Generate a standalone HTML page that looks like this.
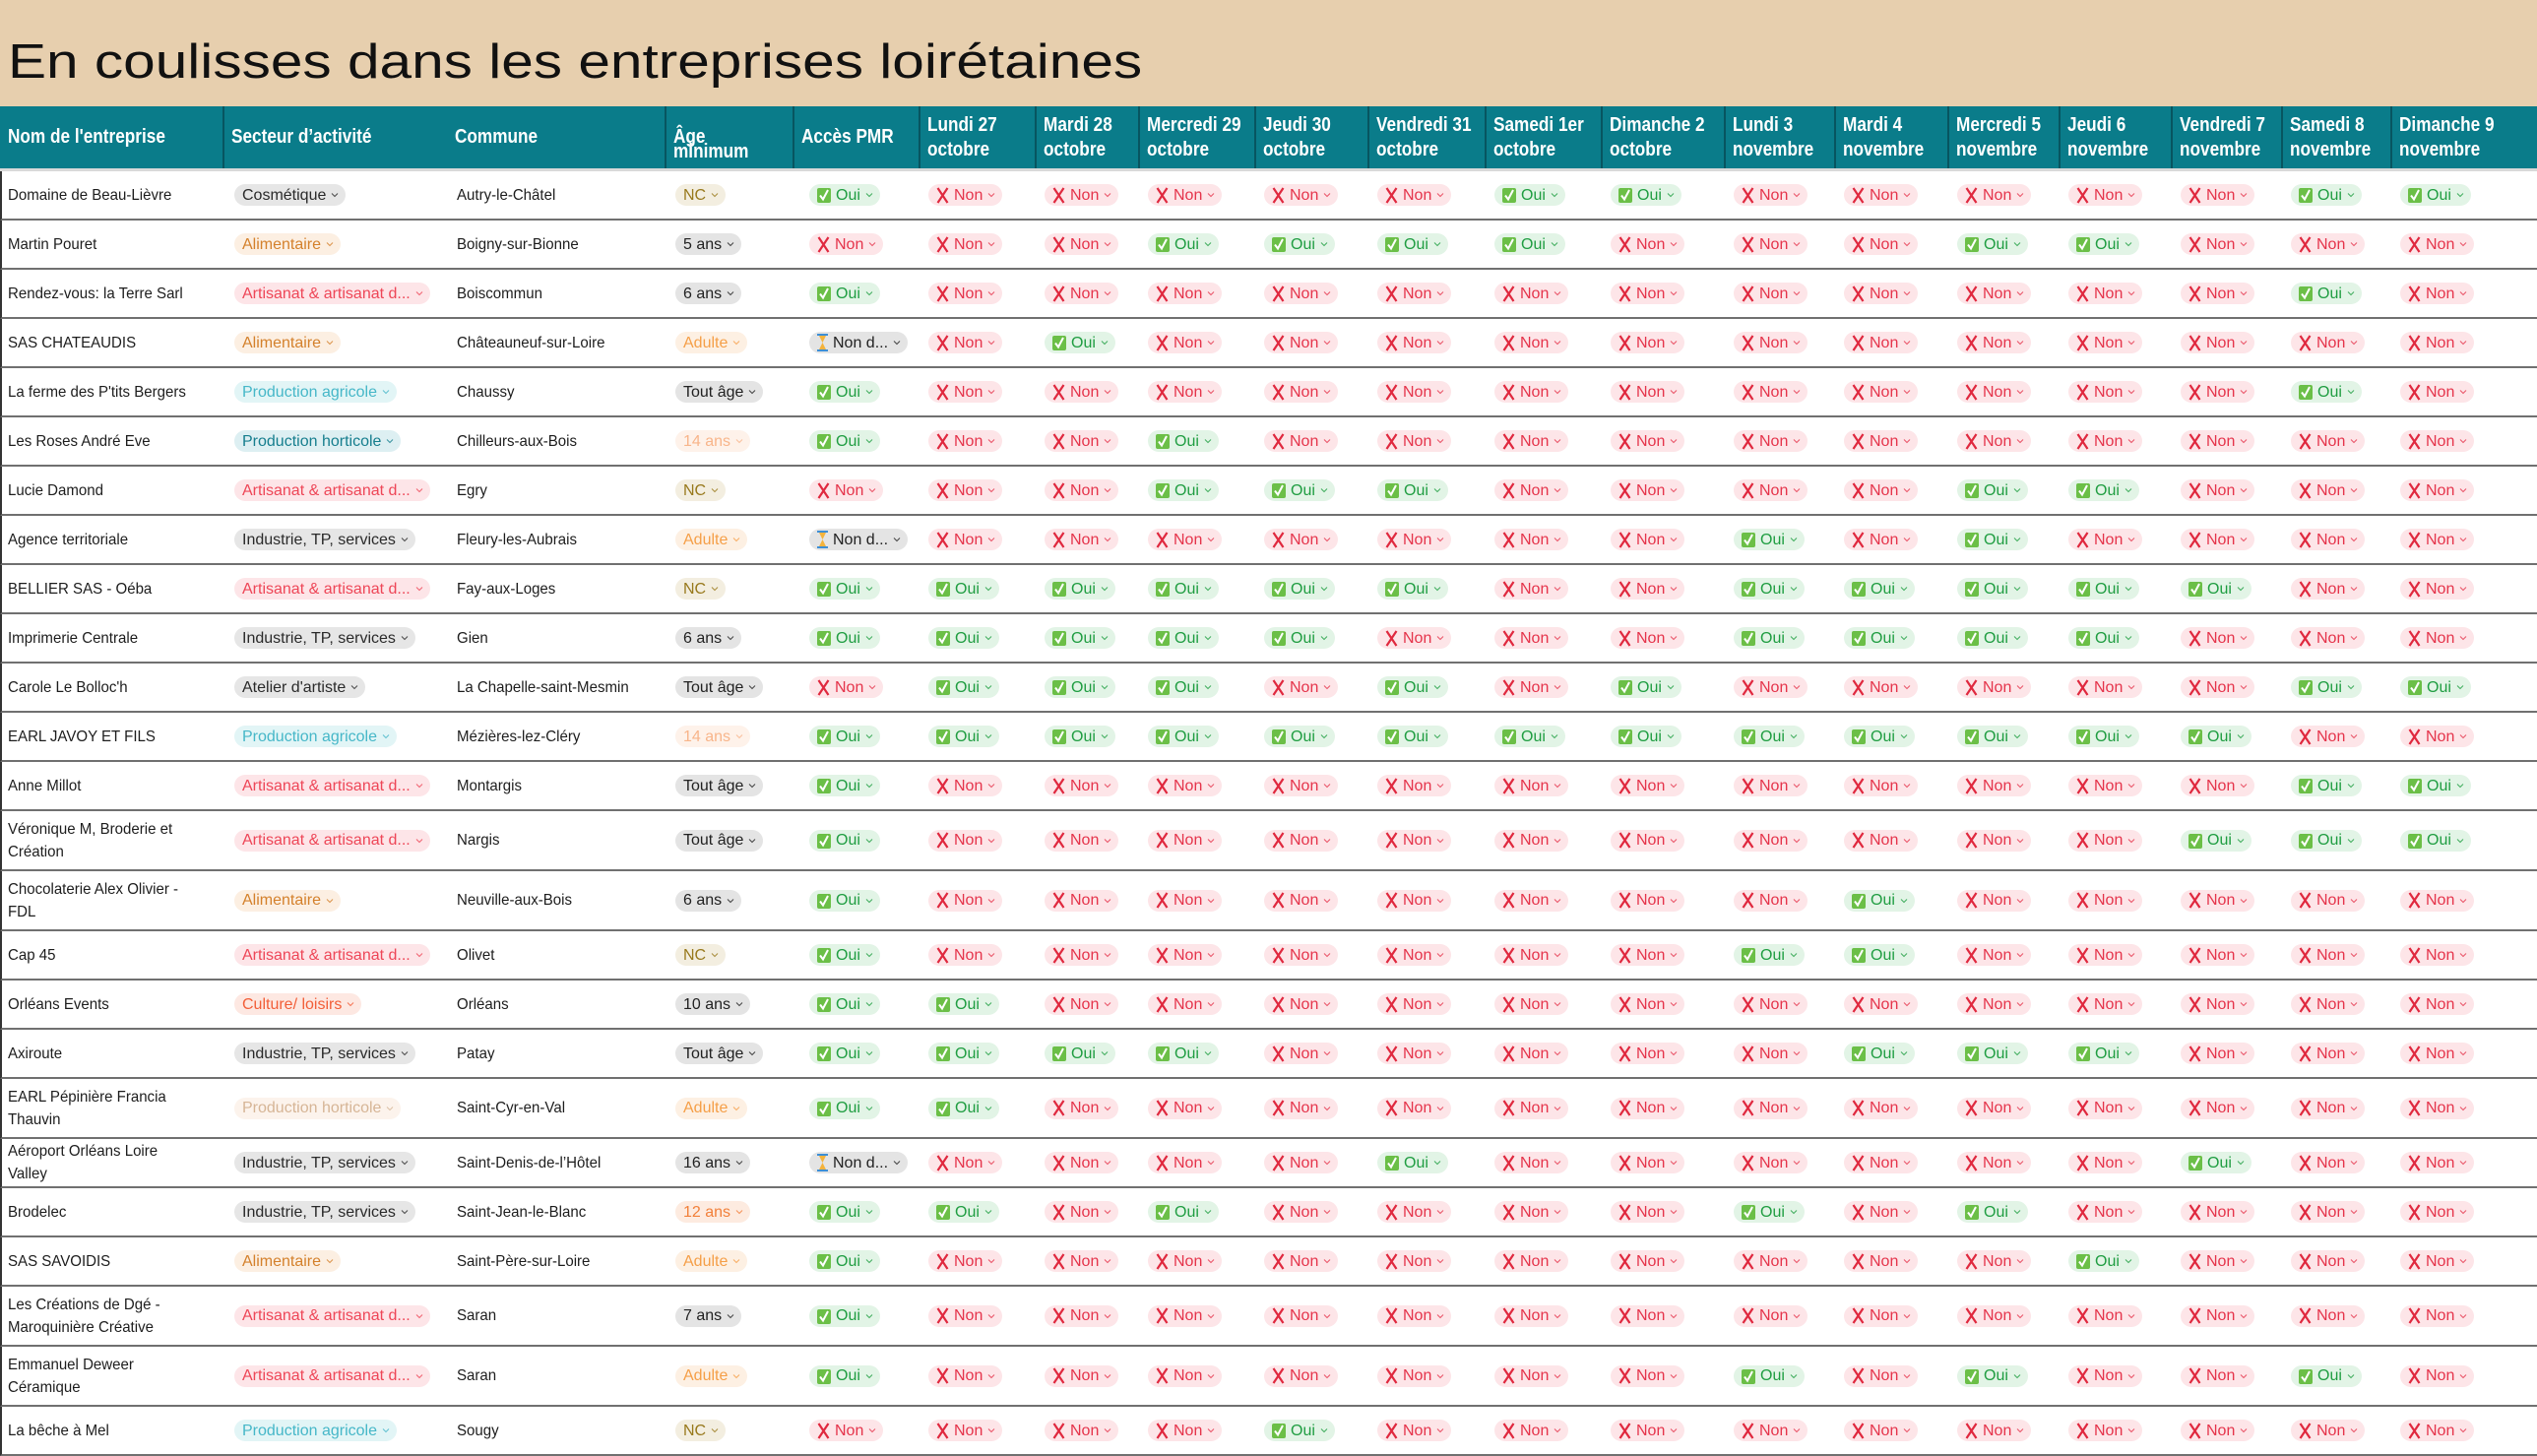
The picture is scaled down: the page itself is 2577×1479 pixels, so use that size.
<!DOCTYPE html>
<html><head><meta charset="utf-8">
<style>
*{box-sizing:border-box;margin:0;padding:0}
html,body{width:2577px;height:1479px;overflow:hidden;background:#fff;font-family:"Liberation Sans",sans-serif}
#title-band{position:absolute;left:0;top:0;width:2577px;height:108px;background:#e7cfae}
#title{position:absolute;left:8px;top:35px;font-size:49px;line-height:56px;color:#111;white-space:nowrap;transform:scaleX(1.195);transform-origin:0 0}
#header{position:absolute;left:0;top:108px;width:2577px;height:66px;background:#0a7c8a;border-bottom:3px solid #d9d9d9}
.hcell{position:absolute;top:0;height:63px;display:flex;align-items:center;padding-left:8px;color:#fff;font-family:"Liberation Sans",sans-serif;font-weight:bold;font-size:20px;line-height:25px;white-space:nowrap}
.hcell > div{transform:scaleX(0.86);transform-origin:0 50%}
.hdiv{position:absolute;top:0;width:2px;height:63px;background:#075560}
.row{position:absolute;left:0;width:2577px;border-bottom:2px solid #707070;border-left:2px solid #333}
.cell{position:absolute;top:0;height:100%;display:flex;align-items:center;font-family:"Liberation Sans",sans-serif;font-size:16px;color:#1d1d1d;line-height:23px}
.txt{transform:scaleX(0.94);transform-origin:0 50%;display:inline-block}
.pill{display:inline-flex;align-items:center;height:22px;border-radius:11px;padding:0 7px 0 8px;font-family:"Liberation Sans",sans-serif;font-size:16px;white-space:nowrap}
.chev{margin-left:5px;width:8px;height:6px}
.oui{background:#e2f4e6;color:#1f9d41}
.non{background:#fde5e8;color:#e5344b}
.nd{background:#e4e4e4;color:#222}
.ico{margin-right:5px}
</style></head>
<body>
<div id="title-band"><div id="title">En coulisses dans les entreprises loirétaines</div></div>
<div id="header"></div>
<div id="body"></div>
<script>
const headers=["Nom de l'entreprise","Secteur d’activité","Commune","Âge<br>minimum","Accès PMR","Lundi 27<br>octobre","Mardi 28<br>octobre","Mercredi 29<br>octobre","Jeudi 30<br>octobre","Vendredi 31<br>octobre","Samedi 1er<br>octobre","Dimanche 2<br>octobre","Lundi 3<br>novembre","Mardi 4<br>novembre","Mercredi 5<br>novembre","Jeudi 6<br>novembre","Vendredi 7<br>novembre","Samedi 8<br>novembre","Dimanche 9<br>novembre"];
const colX=[0,227,454,676,806,934,1052,1157,1275,1390,1509,1627,1752,1864,1979,2092,2206,2318,2429,2577];
const names=["Domaine de Beau-Lièvre","Martin Pouret","Rendez-vous: la Terre Sarl","SAS CHATEAUDIS","La ferme des P'tits Bergers","Les Roses André Eve","Lucie Damond","Agence territoriale","BELLIER SAS - Oéba","Imprimerie Centrale","Carole Le Bolloc'h","EARL JAVOY ET FILS","Anne Millot","Véronique M, Broderie et Création","Chocolaterie Alex Olivier - FDL","Cap 45","Orléans Events","Axiroute","EARL Pépinière Francia Thauvin","Aéroport Orléans Loire<br>Valley","Brodelec","SAS SAVOIDIS","Les Créations de Dgé - Maroquinière Créative","Emmanuel Deweer Céramique","La bêche à Mel"];
const doubleRow=[0,0,0,0,0,0,0,0,0,0,0,0,0,1,1,0,0,0,1,0,0,0,1,1,0];
const sectors=["Cosmétique","Alimentaire","Artisanat & artisanat d...","Alimentaire","Production agricole","Production horticole","Artisanat & artisanat d...","Industrie, TP, services","Artisanat & artisanat d...","Industrie, TP, services","Atelier d'artiste","Production agricole","Artisanat & artisanat d...","Artisanat & artisanat d...","Alimentaire","Artisanat & artisanat d...","Culture/ loisirs","Industrie, TP, services","Production horticole*","Industrie, TP, services","Industrie, TP, services","Alimentaire","Artisanat & artisanat d...","Artisanat & artisanat d...","Production agricole"];
const communes=["Autry-le-Châtel","Boigny-sur-Bionne","Boiscommun","Châteauneuf-sur-Loire","Chaussy","Chilleurs-aux-Bois","Egry","Fleury-les-Aubrais","Fay-aux-Loges","Gien","La Chapelle-saint-Mesmin","Mézières-lez-Cléry","Montargis","Nargis","Neuville-aux-Bois","Olivet","Orléans","Patay","Saint-Cyr-en-Val","Saint-Denis-de-l’Hôtel","Saint-Jean-le-Blanc","Saint-Père-sur-Loire","Saran","Saran","Sougy"];
const ages=["NC","5 ans","6 ans","Adulte","Tout âge","14 ans","NC","Adulte","NC","6 ans","Tout âge","14 ans","Tout âge","Tout âge","6 ans","NC","10 ans","Tout âge","Adulte","16 ans","12 ans","Adulte","7 ans","Adulte","NC"];
const pmr=["O","N","O","D","O","O","N","D","O","O","N","O","O","O","O","O","O","O","O","D","O","O","O","O","N"];
const days=["NNNNNOONNNNNOO","NNOOOONNNOONNN","NNNNNNNNNNNNON","NONNNNNNNNNNNN","NNNNNNNNNNNNON","NNONNNNNNNNNNN","NNOOONNNNOONNN","NNNNNNNONONNNN","OOOOONNOOOOONN","OOOONNNOOOONNN","OOONONONNNNNOO","OOOOOOOOOOOONN","NNNNNNNNNNNNOO","NNNNNNNNNNNOOO","NNNNNNNNONNNNN","NNNNNNNOONNNNN","ONNNNNNNNNNNNN","OOONNNNNOOONNN","ONNNNNNNNNNNNN","NNNNONNNNNNONN","ONONNNNONONNNN","NNNNNNNNNNONNN","NNNNNNNNNNNNNN","NNNNNNNONONNON","NNNONNNNNNNNNN"];

const secStyle={"Cosmétique":["#e6e6e6","#2a2a2a"],"Industrie, TP, services":["#e6e6e6","#2a2a2a"],"Atelier d'artiste":["#e6e6e6","#2a2a2a"],"Alimentaire":["#fcefe2","#d4812c"],"Artisanat & artisanat d...":["#fde5e8","#ee4657"],"Production agricole":["#e2f5f6","#46b7c8"],"Production horticole":["#ddeff2","#167e8e"],"Production horticole*":["#fcf3ec","#d6b596"],"Culture/ loisirs":["#fde8e2","#f25e38"]};
function ageStyle(a){if(a==="NC")return["#f3eee0","#98791c"];if(a==="Adulte")return["#fdf0e3","#f59f48"];if(a==="14 ans")return["#fef2ea","#f8b58a"];if(a==="12 ans")return["#fdebe0","#f2803a"];return["#e4e4e4","#222"];}

const chev='<svg class="chev" viewBox="0 0 8 6"><path d="M1 1.5 L4 4.5 L7 1.5" fill="none" stroke="currentColor" stroke-width="1.1" opacity="0.8"/></svg>';
const checkIco='<svg class="ico" width="14" height="16" viewBox="0 0 14 16"><rect x="0" y="1" width="14" height="15" rx="2" fill="#6bbf47"/><path d="M3 8.5 L6 12.5 L11 3" fill="none" stroke="#fff" stroke-width="2"/></svg>';
const xIco='<svg class="ico" width="13" height="17" viewBox="0 0 13 17"><path d="M1.5 1 L11.5 16 M11.5 1 L1.5 16" stroke="#e0293f" stroke-width="2.2"/></svg>';
const hgIco='<svg class="ico" width="11" height="18" viewBox="0 0 11 18"><rect x="0" y="0" width="11" height="2" fill="#3d8fd6"/><rect x="0" y="16" width="11" height="2" fill="#3d8fd6"/><path d="M2 2 L9 2 L5.5 9 L9 16 L2 16 L5.5 9Z" fill="#f4b33c"/></svg>';

const header=document.getElementById('header');
headers.forEach((h,i)=>{
  const d=document.createElement('div');
  d.className='hcell';
  
  
  d.style.left=colX[i]+'px';d.style.width=(colX[i+1]-colX[i])+'px';
  if(i===3){d.style.lineHeight='15px';d.style.paddingTop='14px';}
  d.innerHTML='<div>'+h+'</div>';
  header.appendChild(d);
  if(i>0&&i!==2){
    const v=document.createElement('div');
    v.className='hdiv';
    
    
    v.style.left=(colX[i]-1)+'px';
    header.appendChild(v);
  }
});

function pill(text,bg,fg,icon){
  return '<span class="pill" style="background:'+bg+';color:'+fg+'">'+(icon||'')+text+chev+'</span>';
}
function ynPill(c){
  if(c==='O')return '<span class="pill oui">'+checkIco+'Oui'+chev+'</span>';
  if(c==='D')return '<span class="pill nd">'+hgIco+'Non d...'+chev+'</span>';
  return '<span class="pill non">'+xIco+'Non'+chev+'</span>';
}

const body=document.getElementById('body');
let y=174;
names.forEach((n,r)=>{
  const h=doubleRow[r]?61:50;
  const row=document.createElement('div');
  row.className='row';
  
  
  row.style.top=y+'px';row.style.height=h+'px';
  const cells=[];
  cells.push('<span class="txt" style="white-space:normal;width:215px">'+n+'</span>');
  const sk=sectors[r];const ss=secStyle[sk];
  cells.push(pill(sk.replace('*',''),ss[0],ss[1]));
  cells.push('<span class="txt" style="white-space:nowrap">'+communes[r]+'</span>');
  const as=ageStyle(ages[r]);
  cells.push(pill(ages[r],as[0],as[1]));
  cells.push(ynPill(pmr[r]));
  for(let k=0;k<14;k++)cells.push(ynPill(days[r][k]));
  cells.forEach((html,i)=>{
    const c=document.createElement('div');
    c.className='cell';
    
    
    const left=colX[i]+(i<=2?(i===0?6:(i===1?9:8)):(i===3?8:(i===4?14:7)));
    c.style.left=left+'px';
    c.innerHTML=html;
    row.appendChild(c);
  });
  body.appendChild(row);
  y+=h;
});
</script>
</body></html>
